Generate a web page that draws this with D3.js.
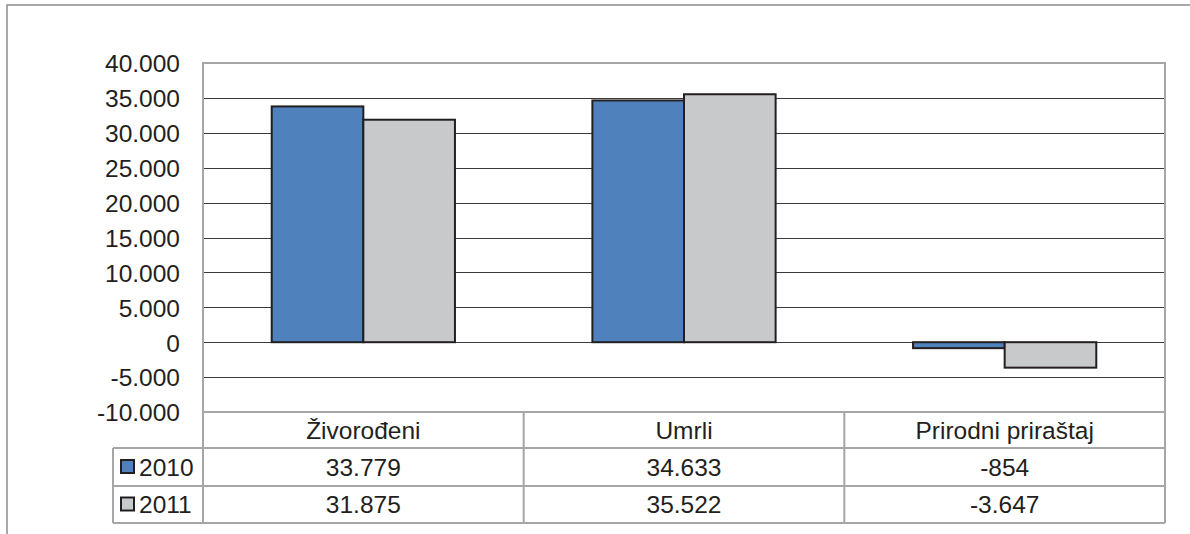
<!DOCTYPE html>
<html><head><meta charset="utf-8">
<script src="https://cdn.jsdelivr.net/npm/d3@7"></script>
<style>body{margin:0;background:#fff}svg{display:block;font-family:"Liberation Sans",Arial,sans-serif}</style>
</head><body><svg id="c" width="1190" height="534"></svg>
<script>
const categories = ["Živorođeni", "Umrli", "Prirodni priraštaj"];
const seriesNames = ["2010", "2011"];
const values2010 = [33779, 34633, -854];
const values2011 = [31875, 35522, -3647];
const tickValues = [-10000, -5000, 0, 5000, 10000, 15000, 20000, 25000, 30000, 35000, 40000];
const tableLabels2010 = ["33.779", "34.633", "-854"];
const tableLabels2011 = ["31.875", "35.522", "-3.647"];
const colors = ["#4f81bd", "#c8c9cb"];

const svg = d3.select("#c");
const L = 203, R = 1165, T = 63, B = 412;
const rows = [412, 448, 486, 523];
const legendLeft = 113;
const locale = d3.formatLocale({decimal: ",", thousands: ".", grouping: [3], currency: ["", ""], minus: "-"});
const fmt = locale.format(",");

// outer frame
svg.append("rect").attr("x", 7).attr("y", 5).attr("width", 1200).attr("height", 560)
  .attr("fill", "none").attr("stroke", "#8c8c8c").attr("stroke-width", 1.5);

const y = d3.scaleLinear().domain([-10000, 40000]).range([B, T]);
const x0 = d3.scaleBand().domain(categories).range([L, R]).paddingInner(0).paddingOuter(0);
const bw = x0.bandwidth();
const x1 = d3.scaleBand().domain(seriesNames).range([0, bw]).paddingInner(0).paddingOuter(0.75);

// gridlines
svg.append("g").selectAll("line").data(tickValues.filter(t => t !== 40000 && t !== -10000)).join("line")
  .attr("x1", L).attr("x2", R).attr("y1", d => Math.round(y(d)) + 0.5).attr("y2", d => Math.round(y(d)) + 0.5)
  .attr("stroke", "#3a3a3a").attr("stroke-width", 1);

// y axis labels via d3 axis
const ax = svg.append("g").attr("transform", `translate(${L},0)`)
  .call(d3.axisLeft(y).tickValues(tickValues).tickFormat(fmt).tickSize(0).tickPadding(23));
ax.select(".domain").remove();
ax.selectAll("text").attr("font-size", 24.5).attr("fill", "#231f20").attr("font-family", "Liberation Sans, Arial, sans-serif").attr("dy", "0.36em");

// bars
const data = categories.map((c, i) => ({c, vals: [values2010[i], values2011[i]]}));
const g = svg.append("g");
data.forEach(d => {
  d.vals.forEach((v, j) => {
    g.append("rect")
      .attr("x", x0(d.c) + x1(seriesNames[j]))
      .attr("y", y(Math.max(0, v)))
      .attr("width", x1.bandwidth())
      .attr("height", Math.abs(y(v) - y(0)))
      .attr("fill", colors[j]).attr("stroke", "#231f20").attr("stroke-width", 2);
  });
});

// plot border
const grey = "#a6a6a6";
svg.append("rect").attr("x", L).attr("y", T).attr("width", R - L).attr("height", B - T)
  .attr("fill", "none").attr("stroke", grey).attr("stroke-width", 2);

// data table lines
const tl = svg.append("g").attr("stroke", grey).attr("stroke-width", 2);
tl.append("line").attr("x1", L).attr("x2", L).attr("y1", B).attr("y2", rows[3]);
tl.append("line").attr("x1", R).attr("x2", R).attr("y1", B).attr("y2", rows[3]);
tl.append("line").attr("x1", legendLeft).attr("x2", legendLeft).attr("y1", rows[1]).attr("y2", rows[3]);
[rows[1], rows[2], rows[3]].forEach(yy => tl.append("line").attr("x1", legendLeft).attr("x2", R).attr("y1", yy).attr("y2", yy));
categories.slice(1).forEach(c => tl.append("line").attr("x1", x0(c)).attr("x2", x0(c)).attr("y1", B).attr("y2", rows[3]));

const tt = svg.append("g").attr("font-size", 24.5).attr("fill", "#231f20").attr("text-anchor", "middle");
categories.forEach((c, i) => {
  const cx = x0(c) + bw / 2;
  tt.append("text").attr("x", cx).attr("y", (rows[0] + rows[1]) / 2).attr("dy", "0.36em").text(c);
  tt.append("text").attr("x", cx).attr("y", (rows[1] + rows[2]) / 2).attr("dy", "0.36em").text(tableLabels2010[i]);
  tt.append("text").attr("x", cx).attr("y", (rows[2] + rows[3]) / 2).attr("dy", "0.36em").text(tableLabels2011[i]);
});
// legend keys
seriesNames.forEach((s, j) => {
  const cy = (rows[j + 1] + rows[j + 2]) / 2;
  svg.append("rect").attr("x", 121).attr("y", cy - 7).attr("width", 13).attr("height", 13)
    .attr("fill", colors[j]).attr("stroke", "#231f20").attr("stroke-width", 2);
  svg.append("text").attr("x", 139).attr("y", cy).attr("dy", "0.36em").attr("font-size", 24.5)
    .attr("fill", "#231f20").text(s);
});
</script></body></html>
